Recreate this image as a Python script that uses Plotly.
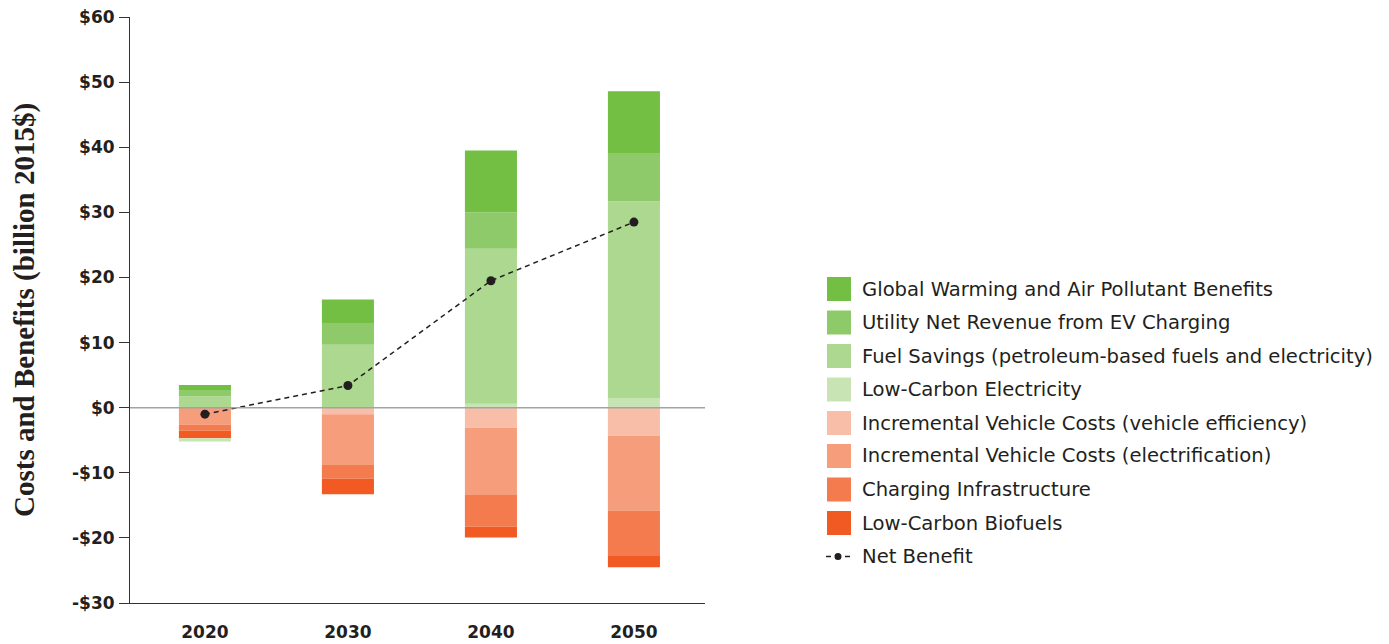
import plotly.graph_objects as go

# ---------------- data ----------------
years = ["2020", "2030", "2040", "2050"]
global_warming = [0.9, 3.6, 9.5, 9.5]
utility_revenue = [0.9, 3.35, 5.6, 7.4]
fuel_savings = [1.7, 9.55, 23.8, 30.3]
low_carbon_elec = [-0.5, 0.1, 0.6, 1.4]
veh_efficiency = [0.0, -1.0, -3.1, -4.3]
veh_electrification = [-2.6, -7.8, -10.3, -11.5]
charging_infra = [-0.9, -2.1, -4.9, -7.0]
low_carbon_biofuels = [-1.2, -2.4, -1.65, -1.7]
net_benefit = [-1.0, 3.4, 19.5, 28.5]

y_ticks = [-30, -20, -10, 0, 10, 20, 30, 40, 50, 60]
y_tick_labels = ["-$30", "-$20", "-$10", "$0", "$10", "$20", "$30", "$40", "$50", "$60"]

series_names = [
    "Global Warming and Air Pollutant Benefits",
    "Utility Net Revenue from EV Charging",
    "Fuel Savings (petroleum-based fuels and electricity)",
    "Low-Carbon Electricity",
    "Incremental Vehicle Costs (vehicle efficiency)",
    "Incremental Vehicle Costs (electrification)",
    "Charging Infrastructure",
    "Low-Carbon Biofuels",
]
series_colors = ["#72bf44", "#8fca6a", "#acd890", "#c8e4b5",
                 "#f9bea8", "#f69d7c", "#f37b4d", "#f15a22"]
net_name = "Net Benefit"

# ---------------- geometry (page has an 8px body margin) ----------------
OFF = 8
W, H = 1389 - OFF, 644 - OFF
# target plot area in screen pixels: x 130..705, y 17..603
L, T = 130 - OFF, 17 - OFF
R = W - (705 - OFF)
B = H - (603 - OFF)
PW, PH = W - L - R, H - T - B


def px2x(px):
    return (px - OFF - L) / PW


def py2y(py):
    return (H - B - (py - OFF)) / PH


fig = go.Figure()
BAR_W = 0.364


def add_bar(vals, color, name):
    fig.add_trace(go.Bar(x=years, y=vals, name=name, width=BAR_W,
                         marker=dict(color=color, line=dict(width=0)),
                         showlegend=False))


lce_pos = [v if v > 0 else 0 for v in low_carbon_elec]
lce_neg = [v if v < 0 else 0 for v in low_carbon_elec]

add_bar(lce_pos, series_colors[3], series_names[3])
add_bar(fuel_savings, series_colors[2], series_names[2])
add_bar(utility_revenue, series_colors[1], series_names[1])
add_bar(global_warming, series_colors[0], series_names[0])
add_bar(veh_efficiency, series_colors[4], series_names[4])
add_bar(veh_electrification, series_colors[5], series_names[5])
add_bar(charging_infra, series_colors[6], series_names[6])
add_bar(low_carbon_biofuels, series_colors[7], series_names[7])
add_bar(lce_neg, series_colors[3], series_names[3])

fig.add_trace(go.Scatter(x=years, y=net_benefit, name=net_name, mode="lines+markers",
                         line=dict(color="#231f20", width=1.5, dash="5px,4px"),
                         marker=dict(color="#231f20", size=9),
                         showlegend=False))

shapes = []
annotations = []

# zero line above bars
shapes.append(dict(type="line", xref="paper", yref="y", x0=0, x1=1, y0=0, y1=0,
                   line=dict(color="#a3a3a3", width=1.5), layer="above"))

LEG_FONT = dict(family="DejaVu Sans", size=19.6, color="#231f20")

# custom legend
row_y = [289, 322.5, 356, 389.5, 423, 456, 489.5, 523]
for name, color, ry in zip(series_names, series_colors, row_y):
    shapes.append(dict(type="rect", xref="paper", yref="paper",
                       x0=px2x(827), x1=px2x(851), y0=py2y(ry + 12), y1=py2y(ry - 12),
                       fillcolor=color, line=dict(width=0)))
    annotations.append(dict(text=name, xref="paper", yref="paper",
                            x=px2x(860), y=py2y(ry), xanchor="left", yanchor="middle",
                            showarrow=False, font=LEG_FONT))
ny = 556.5
for a, b in [(826, 831), (845, 850)]:
    shapes.append(dict(type="line", xref="paper", yref="paper",
                       x0=px2x(a), x1=px2x(b), y0=py2y(ny), y1=py2y(ny),
                       line=dict(color="#231f20", width=1.5)))
shapes.append(dict(type="circle", xref="paper", yref="paper",
                   x0=px2x(834.5), x1=px2x(841.5), y0=py2y(ny + 3.5), y1=py2y(ny - 3.5),
                   fillcolor="#231f20", line=dict(width=0)))
annotations.append(dict(text=net_name, xref="paper", yref="paper",
                        x=px2x(860), y=py2y(ny), xanchor="left", yanchor="middle",
                        showarrow=False, font=LEG_FONT))

# y axis title
annotations.append(dict(text="<b>Costs and Benefits (billion 2015$)</b>", xref="paper", yref="paper",
                        x=px2x(24), y=py2y(310), xanchor="center", yanchor="middle",
                        textangle=-90, showarrow=False, borderpad=0,
                        font=dict(family="Liberation Serif", size=29, color="#231f20")))

TICK_FONT = dict(family="DejaVu Sans", size=17, color="#231f20", weight=700)

fig.update_layout(
    template="none",
    width=W, height=H,
    margin=dict(l=L, r=R, t=T, b=B, pad=0, autoexpand=False),
    barmode="relative",
    plot_bgcolor="white", paper_bgcolor="white",
    shapes=shapes, annotations=annotations,
    showlegend=False,
    xaxis=dict(type="category", range=[-0.524, 3.497], showline=True, linecolor="#333333",
               linewidth=1, ticks="", showgrid=False, zeroline=False, automargin=False,
               ticklabelstandoff=14, tickfont=TICK_FONT),
    yaxis=dict(range=[-30, 60], tickvals=y_ticks, ticktext=y_tick_labels,
               showline=True, linecolor="#333333", linewidth=1, ticks="outside",
               ticklen=10, tickcolor="#333333", tickwidth=1, showgrid=False,
               zeroline=False, automargin=False, ticklabelstandoff=1,
               ticklabeloverflow="allow", tickfont=TICK_FONT),
)

fig.write_html("out.html")
